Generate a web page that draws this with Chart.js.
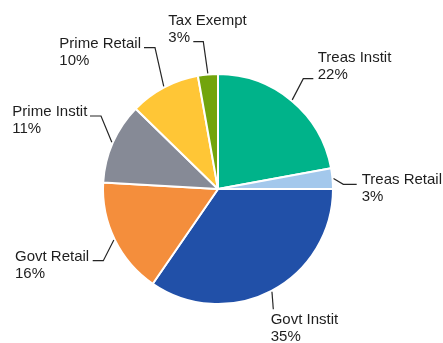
<!DOCTYPE html>
<html>
<head>
<meta charset="utf-8">
<script src="https://cdn.jsdelivr.net/npm/chart.js@4/dist/chart.umd.min.js"></script>
<style>
html,body{margin:0;padding:0;background:#fff;}
#wrap{width:443px;height:343px;position:relative;}
</style>
</head>
<body>
<div id="wrap"><canvas id="c" width="443" height="343"></canvas></div>
<script>
// Data
const categories = ['Treas Instit','Treas Retail','Govt Instit','Govt Retail','Prime Instit','Prime Retail','Tax Exempt'];
const shares = [22.1, 2.9, 34.6, 16.3, 11.4, 9.9, 2.8];
const colors = ['#00B38A','#A3C8EC','#2150A8','#F48E3C','#868A96','#FFC636','#72A40C'];

// Label layout (text left x, first baseline y, leader elbow x/y, leader end x)
const labelLayout = [
  {tx:317.7, ty:62.4, ex:303.3, ey:78.7, hx:313.3},
  {tx:361.7, ty:184.0, ex:343.3, ey:184.3, hx:356.7},
  {tx:270.7, ty:324.0, ex:273.3, ey:309.3, hx:273.3},
  {tx:15.0,  ty:260.7, ex:103.3, ey:260.7, hx:92.7},
  {tx:12.3,  ty:115.7, ex:101.0, ey:116.0, hx:90.0},
  {tx:59.3,  ty:48.0,  ex:155.0, ey:47.7,  hx:144.0},
  {tx:168.3, ty:24.7,  ex:203.3, ey:41.7,  hx:193.3}
];

const leaderLabels = {
  id:'leaderLabels',
  afterDatasetsDraw(chart){
    const ctx = chart.ctx;
    const meta = chart.getDatasetMeta(0);
    const total = shares.reduce((a,b)=>a+b,0);
    ctx.save();
    meta.data.forEach((arc,i)=>{
      const p = arc.getProps(['x','y','startAngle','endAngle','outerRadius'], true);
      const mid = (p.startAngle + p.endAngle)/2;
      const r = p.outerRadius + 1;
      const sx = p.x + Math.cos(mid)*r;
      const sy = p.y + Math.sin(mid)*r;
      const L = labelLayout[i];
      ctx.strokeStyle = '#262626';
      ctx.lineWidth = 1.2;
      ctx.beginPath();
      ctx.moveTo(sx, sy);
      ctx.lineTo(L.ex, L.ey);
      ctx.lineTo(L.hx, L.ey);
      ctx.stroke();
      ctx.fillStyle = '#1e1e1e';
      ctx.font = '15px "Liberation Sans", Arial, sans-serif';
      ctx.textAlign = 'left';
      ctx.textBaseline = 'alphabetic';
      ctx.fillText(categories[i], L.tx, L.ty);
      ctx.fillText(Math.round(shares[i]/total*100) + '%', L.tx, L.ty + 17);
    });
    ctx.restore();
  }
};

new Chart(document.getElementById('c'), {
  type:'pie',
  data:{
    labels:categories,
    datasets:[{
      data:shares,
      backgroundColor:colors,
      borderColor:'#ffffff',
      borderWidth:2
    }]
  },
  options:{
    responsive:false,
    animation:false,
    layout:{padding:{left:102, right:109, top:73, bottom:38}},
    plugins:{legend:{display:false}, tooltip:{enabled:false}}
  },
  plugins:[leaderLabels]
});
</script>
</body>
</html>
